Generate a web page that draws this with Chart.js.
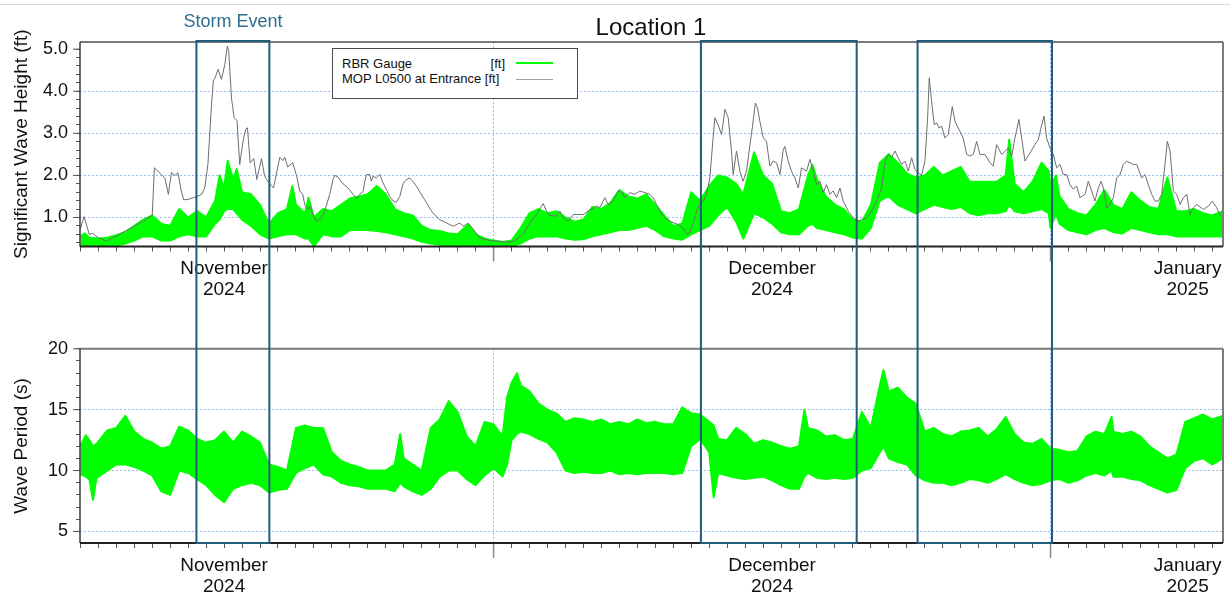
<!DOCTYPE html>
<html><head><meta charset="utf-8">
<script src="https://cdn.jsdelivr.net/npm/chart.js@4.4.0/dist/chart.umd.min.js"></script>
<style>
html,body{margin:0;padding:0;background:#fff;}
body{width:1230px;height:600px;position:relative;overflow:hidden;font-family:"Liberation Sans",Arial,sans-serif;}
.abs{position:absolute;white-space:nowrap;}
</style></head><body>
<div class="abs" style="left:0;top:4px;width:1230px;height:1px;background:#d8d8d8"></div>
<canvas id="c1" width="1230" height="330" style="position:absolute;left:0;top:0"></canvas>
<canvas id="c2" width="1230" height="270" style="position:absolute;left:0;top:330px"></canvas>
<div class="abs" style="left:451px;width:400px;top:15px;font-size:24px;line-height:24px;text-align:center;color:#111">Location 1</div>
<div class="abs" style="left:133px;width:200px;top:12px;font-size:18px;line-height:18px;text-align:center;color:#2e6e8e">Storm Event</div>
<div class="abs" style="left:332px;top:48px;width:244px;height:49px;border:1px solid #4a4a4a;background:#fff"></div>
<div class="abs" style="left:342px;top:57px;font-size:13px;line-height:14px;color:#111">RBR Gauge</div>
<div class="abs" style="left:405px;width:100px;top:57px;font-size:13px;line-height:14px;text-align:right;color:#111">[ft]</div>
<div class="abs" style="left:342px;top:72px;font-size:13px;line-height:14px;color:#111">MOP L0500 at Entrance [ft]</div>
<div class="abs" style="left:516px;top:62px;width:37px;height:2px;background:#00ff00"></div>
<div class="abs" style="left:516px;top:79px;width:37px;height:1px;background:#a0a0a0"></div>
<script>
// ---- time axis: days since 1 Nov 2024 00:00 ----
const dayMin = 6.98, dayMax = 70.6;
const monthStartDays = [30, 61];                 // 1 Dec, 1 Jan
const monthLabelDays = [15, 45.5, 68.63];
const monthLabels = [["November","2024"],["December","2024"],["January","2025"]];
const stormEvents = [[13.46, 17.52], [41.54, 50.21], [53.6, 61.08]];

// ---- top panel: significant wave height (ft) ----
// RBR gauge band: [day, upper, lower]
const rbrHeightBand = [
[7.0,.55,.32],[7.25,.62,.33],[7.5,.52,.32],[8.0,.5,.32],[8.5,.52,.32],[9.0,.58,.33],[9.5,.65,.38],[10.0,.8,.45],[10.5,.95,.55],[11.0,1.05,.55],
[11.5,.85,.45],[12.0,.8,.45],[12.5,1.2,.55],[13.0,1.0,.6],[13.5,1.15,.55],[14.0,1.0,.55],[14.5,1.4,.85],[14.75,2.0,.95],[15.0,1.7,1.15],[15.2,2.35,1.2],
[15.5,1.9,1.2],[15.7,2.15,1.1],[16.0,1.6,.95],[16.5,1.55,.8],[17.0,1.3,.6],[17.5,.85,.5],[18.0,1.1,.55],[18.5,1.2,.6],[18.8,1.75,.6],[19.0,1.3,.6],
[19.5,1.1,.5],[19.7,1.47,.5],[20.0,1.0,.32],[20.5,1.2,.6],[21.0,1.15,.55],[21.5,1.3,.55],[22.0,1.45,.7],[22.5,1.5,.7],[23.0,1.55,.7],[23.5,1.75,.68],
[24.0,1.55,.65],[24.5,1.2,.6],[25.0,1.1,.55],[25.5,1.05,.5],[26.0,.8,.42],[26.5,.7,.38],[27.0,.68,.35],[27.5,.62,.33],[28.0,.6,.33],[28.6,.84,.35],
[29.0,.6,.33],[29.5,.5,.32],[30.0,.45,.32],[30.5,.42,.32],[31.0,.45,.32],[31.5,.75,.38],[32.0,1.1,.5],[32.5,1.2,.55],[33.0,1.1,.55],[33.5,1.15,.55],
[34.0,1.0,.5],[34.5,.9,.47],[35.0,.95,.48],[35.5,1.25,.55],[36.0,1.2,.6],[36.5,1.35,.65],[37.0,1.65,.7],[37.5,1.5,.7],[38.0,1.45,.75],[38.5,1.55,.8],
[39.0,1.3,.7],[39.5,1.05,.55],[40.0,.8,.5],[40.5,.85,.47],[41.0,1.6,.6],[41.5,1.4,.7],[42.0,1.75,.8],[42.5,2.0,1.05],[43.0,1.95,1.25],[43.5,1.8,.9],
[43.9,1.55,.5],[44.5,2.55,1.1],[45.0,2.0,1.0],[45.5,1.8,.85],[46.0,1.15,.65],[46.5,1.1,.6],[47.0,1.2,.6],[47.5,2.0,.8],[47.75,2.25,.85],[48.0,1.9,.75],
[48.5,1.5,.7],[49.0,1.3,.65],[49.5,1.2,.6],[50.0,.95,.52],[50.5,.9,.5],[51.0,1.3,.75],[51.5,2.3,1.4],[52.0,2.5,1.5],[52.5,2.3,1.3],[53.0,2.05,1.2],
[53.5,1.95,1.1],[54.0,2.0,1.2],[54.5,2.2,1.3],[55.0,2.0,1.25],[55.5,2.1,1.2],[56.0,2.2,1.25],[56.5,1.85,1.1],[57.0,1.85,1.05],[57.5,1.85,1.1],[58.0,1.85,1.1],
[58.5,2.0,1.15],[58.7,2.85,1.3],[59.0,1.8,1.15],[59.5,1.6,1.1],[60.0,1.85,1.15],[60.5,2.3,1.2],[60.9,2.1,1.1],[61.0,1.7,.75],[61.3,2.0,1.1],[61.5,1.5,.85],
[62.0,1.2,.7],[62.5,1.1,.65],[63.0,1.05,.6],[63.5,1.3,.7],[64.0,1.65,.75],[64.5,1.3,.65],[65.0,1.2,.62],[65.5,1.6,.75],[66.0,1.4,.7],[66.5,1.25,.65],
[67.0,1.2,.6],[67.5,1.95,.6],[68.0,1.15,.55],[68.5,1.15,.55],[69.0,1.2,.55],[69.5,1.1,.55],[70.0,1.05,.55],[70.6,1.15,.55]
];
// MOP L0500 at Entrance: [day, ft]
const mopHeight = [
[7.0,.72],[7.2,1.02],[7.5,.6],[7.7,.62],[8.0,.52],[8.45,.44],[9.0,.56],[9.5,.68],[10.0,.79],[10.5,.91],
[11.0,1.05],[11.12,2.18],[11.5,2.02],[11.7,1.94],[11.9,1.55],[12.07,2.07],[12.25,2.0],[12.43,2.06],[12.62,1.63],[12.75,1.42],
[13.0,1.43],[13.3,1.47],[13.55,1.51],[13.75,1.55],[13.92,1.7],[14.1,2.26],[14.3,3.68],[14.4,4.24],[14.5,4.32],[14.67,4.52],
[14.85,4.28],[15.04,4.63],[15.18,5.07],[15.26,4.95],[15.41,3.84],[15.56,3.37],[15.72,3.3],[15.87,2.26],[16.05,2.8],[16.2,3.1],
[16.3,3.13],[16.45,2.3],[16.65,2.4],[16.82,1.9],[17.08,2.4],[17.25,2.0],[17.36,1.9],[17.55,1.8],[17.75,1.7],[18.1,2.43],
[18.28,2.35],[18.38,2.43],[18.54,2.2],[18.82,2.3],[19.03,2.0],[19.21,1.63],[19.38,1.55],[19.49,1.3],[19.67,1.2],[19.77,1.27],
[19.95,1.07],[20.14,.9],[20.42,.98],[20.6,1.15],[20.88,1.55],[21.06,1.9],[21.16,2.0],[21.34,1.96],[21.62,1.8],[21.9,1.7],
[22.18,1.55],[22.37,1.44],[22.55,1.55],[22.74,1.62],[22.83,1.86],[22.93,2.02],[23.11,2.02],[23.2,1.86],[23.29,1.98],[23.48,1.94],
[23.67,2.02],[23.85,1.82],[24.04,1.66],[24.22,1.5],[24.4,1.4],[24.59,1.36],[24.78,1.5],[24.96,1.8],[25.15,1.9],[25.33,1.94],
[25.52,1.85],[25.71,1.74],[25.9,1.6],[26.17,1.42],[26.4,1.25],[26.63,1.1],[27.0,.95],[27.38,.87],[27.75,.79],[28.12,.87],
[28.3,.79],[28.58,.86],[28.86,.73],[29.23,.51],[29.79,.45],[30.35,.43],[30.9,.41],[31.18,.45],[31.64,.6],[32.02,.87],
[32.39,1.07],[32.76,1.33],[32.95,1.15],[33.13,1.05],[33.5,1.03],[33.69,1.15],[33.87,.99],[34.15,.91],[34.43,1.07],[34.99,1.07],
[35.26,1.15],[35.73,1.27],[35.91,1.23],[36.19,1.47],[36.38,1.31],[36.66,1.39],[36.93,1.63],[37.16,1.59],[37.31,1.47],[37.58,1.59],
[37.86,1.55],[38.14,1.63],[38.42,1.59],[38.7,1.55],[38.88,1.47],[39.07,1.31],[39.25,1.15],[39.53,.99],[39.81,.91],[40.28,.83],
[40.55,.75],[40.74,.6],[40.93,.64],[41.11,.87],[41.3,1.15],[41.48,1.31],[41.67,1.39],[41.85,1.55],[42.04,1.94],[42.22,2.9],
[42.32,3.37],[42.5,3.2],[42.69,2.97],[42.88,3.57],[43.06,3.37],[43.24,2.58],[43.34,2.02],[43.52,2.58],[43.71,2.1],[43.89,1.86],
[44.08,2.1],[44.27,2.73],[44.4,3.13],[44.57,3.72],[44.69,3.6],[44.82,3.29],[45.01,2.9],[45.19,2.81],[45.38,2.22],[45.56,2.34],
[45.75,2.3],[45.94,2.02],[46.12,2.6],[46.21,2.69],[46.4,2.34],[46.58,2.1],[46.77,1.94],[46.96,1.7],[47.14,2.18],[47.42,2.1],
[47.61,2.38],[47.79,2.1],[47.98,1.78],[48.16,1.86],[48.35,1.59],[48.53,1.78],[48.72,1.55],[48.9,1.63],[49.09,1.47],[49.28,1.7],
[49.46,1.39],[49.74,1.15],[50.02,.99],[50.3,.91],[50.48,.95],[50.76,.99],[51.04,1.15],[51.32,1.39],[51.6,1.7],[51.78,2.3],
[51.97,2.5],[52.15,2.42],[52.34,2.58],[52.52,2.42],[52.71,2.26],[52.9,2.34],[53.08,2.1],[53.27,2.42],[53.45,2.14],[53.64,2.06],
[53.82,2.0],[54.01,2.34],[54.16,3.37],[54.25,4.32],[54.38,3.76],[54.53,3.2],[54.66,3.25],[54.79,3.13],[54.94,3.17],[55.12,2.89],
[55.31,2.97],[55.53,3.64],[55.68,3.29],[55.86,3.13],[56.14,2.89],[56.33,2.5],[56.51,2.46],[56.7,2.5],[56.89,2.81],[57.07,2.5],
[57.35,2.5],[57.63,2.3],[57.81,2.22],[58.0,2.73],[58.28,2.5],[58.65,2.65],[58.84,2.46],[59.02,2.89],[59.24,3.33],[59.39,2.89],
[59.58,2.34],[59.95,2.6],[60.13,2.73],[60.32,2.85],[60.51,3.2],[60.64,3.41],[60.78,2.89],[60.97,2.65],[61.16,2.5],[61.34,2.18],
[61.53,2.26],[61.71,2.02],[61.9,2.02],[62.08,1.78],[62.27,1.67],[62.45,1.75],[62.64,1.47],[62.92,1.55],[63.1,1.86],[63.29,1.63],
[63.47,1.39],[63.66,1.7],[63.81,1.86],[63.94,1.7],[64.12,1.23],[64.31,1.31],[64.5,1.47],[64.68,1.94],[64.87,2.02],[65.05,2.26],
[65.24,2.34],[65.61,2.26],[65.8,2.26],[66.07,1.94],[66.26,2.02],[66.44,1.78],[66.63,1.55],[66.82,1.39],[67.0,1.39],[67.19,1.55],
[67.37,2.26],[67.5,2.81],[67.65,2.58],[67.84,1.63],[68.02,1.55],[68.21,1.31],[68.39,1.47],[68.58,1.55],[68.76,1.07],[68.95,1.23],
[69.14,1.31],[69.51,1.19],[69.79,1.27],[70.01,1.39],[70.25,1.23],[70.43,1.07],[70.6,.99]
];

// ---- bottom panel: wave period (s), RBR gauge band: [day, upper, lower] ----
const rbrPeriodBand = [
[7.0,12.0,9.7],[7.3,12.9,9.5],[7.5,12.5,9.3],[7.7,12.0,7.6],[7.9,12.2,9.4],[8.5,13.3,10.0],[9.0,13.5,10.5],[9.5,14.5,10.5],[10.0,13.2,10.3],[10.5,12.6,10.0],
[11.0,12.3,9.6],[11.5,11.8,8.3],[12.0,12.0,8.0],[12.5,13.6,10.0],[13.0,13.3,9.8],[13.5,12.6,9.3],[14.0,12.3,8.8],[14.5,12.5,8.0],[15.0,13.2,7.4],[15.5,12.3,8.5],
[16.0,13.2,8.8],[16.5,12.8,9.0],[17.0,12.3,8.8],[17.5,10.5,8.2],[18.0,10.3,8.4],[18.5,10.0,8.5],[19.0,13.5,9.8],[19.5,13.7,10.2],[20.0,13.5,10.5],[20.5,13.5,9.7],
[21.0,11.5,9.5],[21.5,10.8,9.0],[22.0,10.5,8.8],[22.5,10.3,8.7],[23.0,10.0,8.5],[23.5,10.0,8.5],[24.0,10.0,8.5],[24.5,10.5,8.3],[24.8,13.0,9.0],[25.0,11.0,8.7],
[25.5,10.5,8.3],[26.0,10.0,8.0],[26.5,13.5,8.5],[27.0,14.2,9.5],[27.5,15.7,10.0],[28.0,14.8,10.0],[28.5,12.8,9.3],[29.0,12.0,8.8],[29.5,14.0,9.6],[30.0,13.8,10.2],
[30.5,12.8,9.5],[30.75,16.0,10.5],[31.0,17.2,12.5],[31.3,18.0,13.0],[31.5,17.0,13.2],[32.0,16.5,13.0],[32.5,15.5,12.6],[33.0,15.0,12.3],[33.5,14.7,11.5],[34.0,14.0,10.0],
[34.5,14.3,9.8],[35.0,14.2,9.9],[35.5,14.0,9.8],[36.0,14.2,9.8],[36.5,13.8,10.0],[37.0,14.0,9.7],[37.5,13.8,9.8],[38.0,14.2,9.7],[38.5,13.9,9.8],[39.0,14.0,9.8],
[39.5,13.8,9.8],[40.0,13.8,9.7],[40.5,15.2,9.8],[41.0,14.7,12.0],[41.5,14.6,12.6],[42.0,14.0,11.5],[42.25,13.7,7.8],[42.5,12.6,9.8],[43.0,12.5,9.6],[43.5,13.5,9.4],
[44.0,13.0,9.3],[44.5,12.2,9.4],[45.0,12.5,9.5],[45.5,12.3,9.2],[46.0,12.0,8.8],[46.5,11.8,8.5],[47.0,12.0,8.5],[47.3,15.0,9.5],[47.5,13.5,9.8],[48.0,13.3,9.4],
[48.5,12.8,9.3],[49.0,12.9,9.4],[49.5,12.5,9.3],[50.0,12.6,9.4],[50.5,14.8,10.0],[51.0,13.5,10.2],[51.5,17.0,11.5],[51.7,18.25,12.0],[52.0,16.5,11.0],[52.5,16.8,10.7],
[53.0,16.0,10.5],[53.5,15.5,9.6],[54.0,13.2,9.2],[54.5,13.5,9.0],[55.0,13.0,9.0],[55.5,12.8,8.8],[56.0,13.2,9.0],[56.5,13.3,9.3],[57.0,13.5,9.2],[57.5,12.8,9.0],
[58.0,13.4,9.3],[58.5,14.4,9.7],[59.0,13.0,9.3],[59.5,12.3,9.0],[60.0,12.2,8.8],[60.5,12.6,8.9],[61.0,11.8,9.2],[61.5,11.7,9.3],[62.0,11.5,9.0],[62.5,11.6,9.2],
[63.0,12.8,9.6],[63.5,13.2,9.8],[64.0,13.0,9.6],[64.4,14.4,10.0],[64.5,13.2,9.5],[65.0,13.0,9.5],[65.5,13.2,9.3],[66.0,12.8,9.2],[66.5,12.0,8.8],[67.0,11.5,8.5],
[67.5,11.0,8.2],[68.0,11.3,8.4],[68.5,14.0,10.2],[69.0,14.3,10.8],[69.5,14.6,11.0],[70.0,14.2,10.5],[70.6,14.5,11.0]
];

// ---- axis tick values ----
const heightTicks = [0.4,0.6,0.8,1.0,1.2,1.4,1.6,1.8,2.0,2.2,2.4,2.6,2.8,3.0,3.2,3.4,3.6,3.8,4.0,4.2,4.4,4.6,4.8,5.0];
const heightLabels = [1.0,2.0,3.0,4.0,5.0];
const periodTicks = [5,6,7,8,9,10,11,12,13,14,15,16,17,18,19,20];
const periodLabels = [5,10,15,20];

// ---- styles ----
const FONT = '"Liberation Sans", Arial, sans-serif';
const GREEN = '#00ff00';
const GRID = '#93c0f4';
const BOXC = '#1f5b7a';
const CLEAR = 'rgba(0,0,0,0)';

function pts(rows, col){ return rows.map(r => ({x: r[0], y: r[col]})); }
function near(a, list){ return list.some(v => Math.abs(v - a) < 1e-6); }

function xAxis(height){
  const dayTicks = [];
  for (let d = 7; d <= 70; d++) dayTicks.push(d);
  return {
    type:'linear', min:dayMin, max:dayMax,
    afterBuildTicks(s){
      const t = dayTicks.slice();
      monthLabelDays.forEach(v => { if (!near(v, t)) t.push(v); });
      t.sort((a,b)=>a-b);
      s.ticks = t.map(v => ({value:v}));
    },
    afterFit(s){ s.height = height; },
    ticks:{ autoSkip:false, maxRotation:0, minRotation:0, padding:7, color:'#111',
      font:{family:FONT, size:19, lineHeight:1.1},
      callback(v){ const i = monthLabelDays.findIndex(m => Math.abs(m - v) < 1e-6); return i >= 0 ? monthLabels[i] : ''; } },
    grid:{ display:true, drawOnChartArea:true, drawTicks:true, tickLength:5, lineWidth:1, tickWidth:1,
      color: c => (c.tick && near(c.tick.value, monthStartDays)) ? GRID : CLEAR,
      tickColor: c => (c.tick && Number.isInteger(c.tick.value)) ? '#555' : CLEAR },
    border:{ display:false, dash:[2,2] }
  };
}
function yAxis(min, max, tickVals, labelVals, fmt, title){
  return {
    type:'linear', position:'left', min, max,
    afterBuildTicks(s){ s.ticks = tickVals.map(v => ({value:v})); },
    afterFit(s){ s.width = 80; },
    ticks:{ autoSkip:false, padding:8, color:'#111', font:{family:FONT, size:18},
      callback(v){ return near(v, labelVals) ? fmt(v) : ''; } },
    grid:{ display:true, drawTicks:true, tickLength:4, lineWidth:1, tickWidth:1, tickColor:'#555',
      color: c => (c.tick && near(c.tick.value, labelVals) && c.tick.value < max - 0.5) ? GRID : CLEAR },
    border:{ display:false, dash:[2,2] },
    title:{ display:true, text:title, color:'#111', font:{family:FONT, size:19}, padding:{top:10, bottom:0} }
  };
}

const framePlugin = {
  id:'frame',
  afterDatasetsDraw(chart, args, opts){
    const {ctx, chartArea:a, scales:{x, y}} = chart;
    const seg = (x1,y1,x2,y2) => { ctx.beginPath(); ctx.moveTo(x1,y1); ctx.lineTo(x2,y2); ctx.stroke(); };
    ctx.save();
    ctx.strokeStyle = '#555'; ctx.lineWidth = 1;
    opts.majors.forEach(v => { const py = y.getPixelForValue(v); seg(a.left-7, py, a.left, py); });
    ctx.strokeStyle = '#8a8a8a'; ctx.lineWidth = 1.5;
    monthStartDays.forEach(d => { const px = x.getPixelForValue(d); seg(px, a.bottom, px, a.bottom + 15); });
    ctx.strokeStyle = '#7a7a7a'; ctx.lineWidth = 2;
    seg(a.left, a.top, a.right, a.top); seg(a.right, a.top, a.right, a.bottom);
    ctx.strokeStyle = '#3a3a3a'; ctx.lineWidth = 1.5;
    seg(a.left, a.top, a.left, a.bottom);
    ctx.strokeStyle = '#222'; ctx.lineWidth = 2;
    seg(a.left, a.bottom, a.right, a.bottom);
    ctx.strokeStyle = BOXC; ctx.lineWidth = 2;
    stormEvents.forEach(([d1, d2]) => {
      const x1 = x.getPixelForValue(d1), x2 = x.getPixelForValue(d2);
      ctx.beginPath();
      if (opts.part === 'top') {
        ctx.moveTo(x1, chart.height); ctx.lineTo(x1, a.top - 1); ctx.lineTo(x2, a.top - 1); ctx.lineTo(x2, chart.height);
      } else {
        ctx.moveTo(x1, 0); ctx.lineTo(x1, a.bottom); ctx.lineTo(x2, a.bottom); ctx.lineTo(x2, 0);
      }
      ctx.stroke();
    });
    ctx.restore();
  }
};

const common = { responsive:false, animation:false, events:[],
  elements:{ point:{radius:0}, line:{tension:0, borderJoinStyle:'round'} } };

new Chart(document.getElementById('c1'), {
  type:'line',
  data:{ datasets:[
    { label:'RBR Gauge low', data:pts(rbrHeightBand,2), borderColor:GREEN, borderWidth:2, fill:false, order:2 },
    { label:'RBR Gauge', data:pts(rbrHeightBand,1), borderColor:GREEN, backgroundColor:GREEN, borderWidth:2, fill:'-1', order:1 },
    { label:'MOP L0500 at Entrance', data:mopHeight.map(r => ({x:r[0], y:r[1]})), borderColor:'#6e6e6e', borderWidth:1, fill:false, order:0 }
  ]},
  options:Object.assign({}, common, {
    layout:{ padding:{top:42, right:7, left:0, bottom:0} },
    plugins:{ legend:{display:false}, tooltip:{enabled:false}, title:{display:false},
      frame:{ part:'top', majors:heightLabels } },
    scales:{ x:xAxis(330 - 246.5), y:yAxis(0.31, 5.17, heightTicks, heightLabels, v => v.toFixed(1), 'Significant Wave Height (ft)') }
  }),
  plugins:[framePlugin]
});

new Chart(document.getElementById('c2'), {
  type:'line',
  data:{ datasets:[
    { label:'Wave period low', data:pts(rbrPeriodBand,2), borderColor:GREEN, borderWidth:2, fill:false, order:2 },
    { label:'Wave period', data:pts(rbrPeriodBand,1), borderColor:GREEN, backgroundColor:GREEN, borderWidth:2, fill:'-1', order:1 }
  ]},
  options:Object.assign({}, common, {
    layout:{ padding:{top:11, right:7, left:0, bottom:0} },
    plugins:{ legend:{display:false}, tooltip:{enabled:false}, title:{display:false},
      frame:{ part:'bottom', majors:periodLabels } },
    scales:{ x:xAxis(270 - 213), y:yAxis(4.05, 20, periodTicks, periodLabels, v => String(v), 'Wave Period (s)') }
  }),
  plugins:[framePlugin]
});
</script>
</body></html>
